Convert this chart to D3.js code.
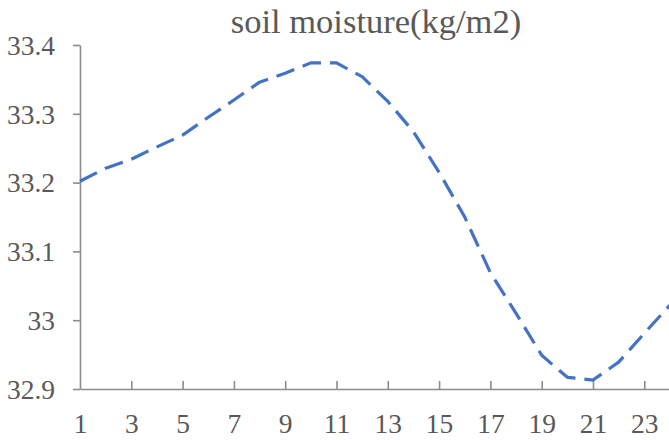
<!DOCTYPE html>
<html><head><meta charset="utf-8">
<script src="https://cdn.jsdelivr.net/npm/d3@7"></script>
<style>body{margin:0;background:#fff}svg{display:block}</style>
</head><body>
<script>
const hours = d3.range(1, 25);
const moisture = [33.202, 33.221, 33.234, 33.252, 33.269, 33.295, 33.320, 33.346, 33.359, 33.374, 33.374, 33.354,
                  33.318, 33.274, 33.215, 33.150, 33.069, 33.010, 32.949, 32.917, 32.913, 32.939, 32.981, 33.022];
const yTicks = [32.9, 33.0, 33.1, 33.2, 33.3, 33.4];
const xTickLabels = [1,3,5,7,9,11,13,15,17,19,21,23];
const title = "soil moisture(kg/m2)";

(function () {
const W = 669, H = 440;
const svg = d3.select("body").append("svg").attr("width", W).attr("height", H);
const mLeft = 80, mTop = 45, mBottom = 389, step = 25.65;
const x = d3.scaleLinear().domain([1, 24]).range([mLeft, mLeft + 23 * step]);
const y = d3.scaleLinear().domain([32.9, 33.4]).range([mBottom, mTop]);
const font = "'Liberation Serif', 'Times New Roman', serif";
const axisColor = "#8c8c8c", textColor = "#595959";

svg.append("text").attr("x", 376).attr("y", 33).attr("text-anchor", "middle")
  .style("font-family", font).style("font-size", "34.5px").attr("fill", textColor).text(title);

const ya = svg.append("g").attr("transform", `translate(${mLeft},0)`)
  .call(d3.axisLeft(y).tickValues(yTicks).tickSize(7).tickSizeOuter(0).tickPadding(18).tickFormat(d => String(+d.toFixed(1))));
ya.select(".domain").attr("stroke", axisColor).attr("stroke-width", 1.6);
ya.selectAll(".tick line").attr("stroke", axisColor).attr("stroke-width", 1.6);
ya.selectAll(".tick text").style("font-family", font).style("font-size", "27.5px").attr("fill", textColor).attr("dy", "0.34em");

const xa = svg.append("g").attr("transform", `translate(0,${mBottom})`)
  .call(d3.axisBottom(x).tickValues(xTickLabels).tickSize(0).tickSizeOuter(0).tickPadding(30).tickFormat(d3.format("d")));
xa.select(".domain").attr("stroke", axisColor).attr("stroke-width", 1.6);
xa.selectAll(".tick text").style("font-family", font).style("font-size", "27.5px").attr("fill", textColor).attr("dy", "0.5em");
xa.selectAll(".tick").filter(d => d !== 1).append("line").attr("y1", 0).attr("y2", -8)
  .attr("stroke", axisColor).attr("stroke-width", 1.6);

const line = d3.line().x((d, i) => x(hours[i])).y(d => y(d));
svg.append("path").datum(moisture).attr("d", line).attr("fill", "none")
  .attr("stroke", "#4472C4").attr("stroke-width", 3.2).attr("stroke-dasharray", "19,9")
  .attr("stroke-linejoin", "round");
})();
</script>
</body></html>
